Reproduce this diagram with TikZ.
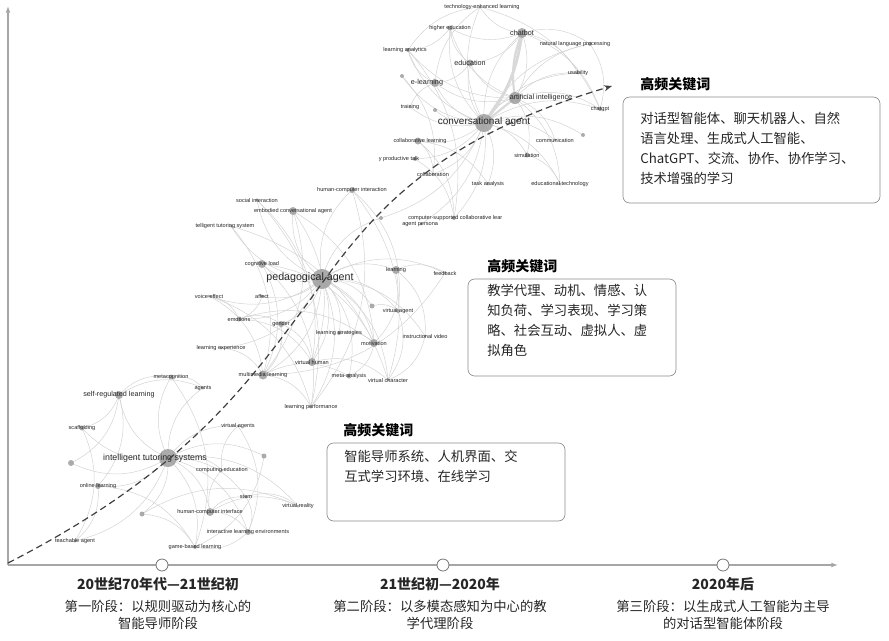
\documentclass[tikz,border=0pt]{standalone}
\usepackage{fontspec}
\setmainfont{Liberation Sans}
\newfontfamily\cjk{Noto Sans CJK SC}
\usetikzlibrary{arrows.meta}
\begin{document}
\begin{tikzpicture}[x=0.75pt,y=-0.75pt,
  kw/.style={inner sep=0pt,font=\fontsize{4.2}{5}\selectfont,text=black!85},
  kwm/.style={inner sep=0pt,font=\fontsize{5.4}{6}\selectfont,text=black!85},
  hub/.style={inner sep=0pt,font=\fontsize{7.5}{8}\selectfont,text=black!85},
  ed/.style={draw=black!18,line width=0.35pt},
  box/.style={draw=black!45,rounded corners=5pt,line width=0.5pt},
  ttl/.style={font=\cjk\fontsize{10.5}{12}\selectfont\bfseries,inner sep=0pt},
  btxt/.style={font=\cjk\fontsize{10}{15}\selectfont,anchor=north west,inner sep=0pt,align=left,text=black!85},
  axl/.style={font=\cjk\fontsize{10}{13}\selectfont,align=center,inner sep=0pt,text=black!85}]
\useasboundingbox (0,0) rectangle (889,640);
% ---------- coordinates of dots
\foreach \n/\x/\y in {ca/484/123,cb/522/33,ai/515/98,ed/470/63,el/435/83,he/450/28,tel/480/7,nlp/590/44,la/408/50,us/578/73,cg/600/109,tr/410/107,d1/402/76,d2/435/110,cl/418/141,pt/415/159,co/433/174,ta/488/184,si/527/155,cm/555/140,et/560/184,d3/583/135,cs/454/218,ap/421/224,d4/381/218}
  {\coordinate (\n) at (\x,\y);}
\foreach \n/\x/\y in {pa/322/279,hci/352/190,si2/257/200,eca/293/211,its2/231/226,clo/262/264,lr/396/270,fb/445/273,ve/209/296,af/262/296,d5/372/306,va/398/311,em/239/319,ge/281/324,ls/339/333,mo/374/343,iv/425/336,lx/221/348,vh/312/362,ml/263/375,ma/349/376,vc/388/380,lp/311/407}
  {\coordinate (\n) at (\x,\y);}
\foreach \n/\x/\y in {its/168/458,mc/171/377,ag/203/388,srl/119/395,sc/82/428,d6/71/463,ol/98/486,vas/238/426,d7/264/456,ce/222/470,st/246/497,vr/298/506,hcif/210/512,d8/142/514,ile/248/532,tea/75/541,gbl/195/547}
  {\coordinate (\n) at (\x,\y);}
% ---------- edges
\foreach \a/\b in {ca/cb,ca/ai,ca/ed,ca/el,ca/he,ca/tel,ca/nlp,ca/la,ca/us,ca/cg,ca/tr,ca/d1,ca/d2,ca/cl,ca/pt,ca/co,ca/ta,ca/si,ca/cm,ca/et,ca/d3,ca/cs,ca/ap,ca/d4,
  cb/ai,cb/nlp,cb/us,cb/ed,cb/he,cb/tel,cb/cg,ai/nlp,ai/cg,ai/us,ai/he,ai/ed,ai/el,ai/la,ai/si,ai/et,ai/cm,ed/he,ed/el,el/la,el/tel,la/tel,cl/co,cl/cs,pt/cs,tr/el,he/la,nlp/cg,la/cs,tel/cg,cl/ta,d1/co,si/et}
  {\draw[ed] (\a) to[bend left=25] (\b);}
\draw[ed,line width=2.2pt,draw=black!15] (ca) to[bend right=15] (cb);
\draw[ed,line width=1.6pt,draw=black!15] (cb) to[bend right=15] (ai);
\draw[ed,line width=1.6pt,draw=black!15] (ca) -- (ai);
\foreach \a/\b in {pa/hci,pa/si2,pa/eca,pa/its2,pa/clo,pa/lr,pa/fb,pa/ve,pa/af,pa/d5,pa/va,pa/em,pa/ge,pa/ls,pa/mo,pa/iv,pa/lx,pa/vh,pa/ml,pa/ma,pa/vc,pa/lp,pa/d4,
  eca/vh,eca/ml,eca/mo,hci/va,hci/vc,clo/ml,clo/mo,clo/lp,lr/mo,lr/fb,lr/iv,ve/ml,ve/em,af/em,em/ge,em/mo,em/vh,ge/vh,ge/ml,ls/mo,ml/lp,ml/ma,vh/vc,mo/ma,va/vc,si2/vh,its2/ml,lx/ml,iv/vc,d5/va,si2/lp,hci/lp,ve/lp,fb/ml,its2/vc}
  {\draw[ed] (\a) to[bend left=28] (\b);}
\foreach \a/\b in {its/mc,its/ag,its/srl,its/sc,its/d6,its/ol,its/vas,its/d7,its/ce,its/st,its/vr,its/hcif,its/d8,its/ile,its/tea,its/gbl,
  srl/mc,srl/sc,srl/ol,srl/d6,srl/ag,ol/tea,ol/gbl,hcif/st,hcif/vr,hcif/ile,hcif/ce,st/vr,st/ile,ce/vas,vas/ile,d7/gbl,d8/gbl,ile/gbl,mc/ag,d8/vr,mc/gbl,sc/tea}
  {\draw[ed] (\a) to[bend left=28] (\b);}
% ---------- dots
\tikzset{dt/.style={fill=black!38}}
\foreach \n/\r in {ca/9,cb/5,ai/6,ed/3.5,el/4,he/2.5,tel/1.5,nlp/2,la/2,us/1.5,cg/2,tr/1.5,d1/2,d2/2,cl/3.5,pt/2,co/1.5,ta/1.5,si/2.5,cm/1.5,et/1.5,d3/2,cs/2,ap/1.5,d4/2,
  pa/10,hci/3,si2/1.5,eca/4,its2/1.5,clo/4,lr/4,fb/1.5,ve/1.5,af/1.5,d5/2.5,va/2,em/2.5,ge/3,ls/2,mo/4,iv/1.5,lx/1.5,vh/4,ml/4.5,ma/2.5,vc/1.5,lp/1.5,
  its/9,mc/2.5,ag/1.5,srl/4,sc/2.5,d6/3,ol/3,vas/1.5,d7/2.5,ce/1.5,st/1.5,vr/1.5,hcif/4,d8/2.5,ile/3,tea/1.5,gbl/2}
  {\fill[dt,opacity=0.85] (\n) circle[radius=\r];}
% ---------- labels
\node[hub] (lca) at (484,122) {conversational agent};
\node[kwm] (lcb) at (522,33) {chatbot};
\node[kwm] (lai) at (541,98) {artificial intelligence};
\node[kwm] (led) at (470,63) {education};
\node[kwm] (lel) at (427,83) {e-learning};
\node[kw] (lhe) at (450,28) {higher education};
\node[kw] (ltel) at (482,7) {technology-enhanced learning};
\node[kw] (lnlp) at (575,44) {natural language processing};
\node[kw] (lla) at (405,50) {learning analytics};
\node[kw] (lus) at (578,73) {usability};
\node[kw] (lcg) at (600,109) {chatgpt};
\node[kw] (ltr) at (410,107) {training};
\node[kw] (lcl) at (420,141) {collaborative learning};
\node[kw] (lpt) at (399,159) {y productive talk};
\node[kw] (lco) at (433,174) {collaboration};
\node[kw] (lta) at (488,184) {task analysis};
\node[kw] (lsi) at (527,155) {simulation};
\node[kw] (lcm) at (555,140) {communication};
\node[kw] (let) at (560,184) {educational technology};
\node[kw,anchor=west] (lcs) at (408,218) {computer-supported collaborative lear};
\node[kw,anchor=west] (lap) at (402,224) {agent persona};
\node[hub,font=\fontsize{8}{9}\selectfont] (lpa) at (310,278) {pedagogical agent};
\node[kw] (lhci) at (352,190) {human-computer interaction};
\node[kw] (lsi2) at (257,200) {social interaction};
\node[kw] (leca) at (293,211) {embodied conversational agent};
\node[kw] (lits2) at (225,226) {telligent tutoring system};
\node[kw] (lclo) at (262,264) {cognitive load};
\node[kw] (llr) at (396,270) {learning};
\node[kw] (lfb) at (445,273) {feedback};
\node[kw] (lve) at (209,296) {voice effect};
\node[kw] (laf) at (262,296) {affect};
\node[kw] (lva) at (398,311) {virtual agent};
\node[kw] (lem) at (239,319) {emotions};
\node[kw] (lge) at (281,324) {gender};
\node[kw] (lls) at (339,333) {learning strategies};
\node[kw] (lmo) at (374,343) {motivation};
\node[kw] (liv) at (425,336) {instructional video};
\node[kw] (llx) at (221,348) {learning experience};
\node[kw] (lvh) at (312,362) {virtual human};
\node[kw] (lml) at (263,375) {multimedia learning};
\node[kw] (lma) at (349,376) {meta-analysis};
\node[kw] (lvc) at (388,380) {virtual character};
\node[kw] (llp) at (311,407) {learning performance};
\node[hub,font=\fontsize{6.6}{7}\selectfont] (lits) at (155,458) {intelligent tutoring systems};
\node[kw] (lmc) at (171,377) {metacognition};
\node[kw] (lag) at (203,388) {agents};
\node[kwm] (lsrl) at (119,395) {self-regulated learning};
\node[kw] (lsc) at (82,428) {scaffolding};
\node[kw] (lol) at (98,486) {online learning};
\node[kw] (lvas) at (238,426) {virtual agents};
\node[kw] (lce) at (222,470) {computing education};
\node[kw] (lst) at (246,497) {stem};
\node[kw] (lvr) at (298,506) {virtual reality};
\node[kw] (lhcif) at (210,512) {human-computer interface};
\node[kw] (lile) at (248,532) {interactive learning environments};
\node[kw] (ltea) at (75,541) {teachable agent};
\node[kw] (lgbl) at (195,547) {game-based learning};
% ---------- axes
\draw[black!35,line width=1.2pt,-{Latex[length=5pt]}] (8,565) -- (8,6);
\draw[black!35,line width=1.2pt,-{Latex[length=5pt]}] (8,565) -- (838,565);
\foreach \n/\x in {t1/162,t2/443,t3/723}
  \node[circle,draw=black!55,fill=white,minimum size=9pt,inner sep=0pt,line width=0.6pt] (\n) at (\x,565) {};
% ---------- trend curve
\coordinate (s0) at (8,563);
\coordinate (s1) at (612,86);
\draw[black!75,line width=0.9pt,dash pattern=on 5pt off 3pt,-{Stealth[length=6pt]}]
  (s0) .. controls (190,470) and (250,380) .. (310,300)
  .. controls (370,215) and (430,140) .. (s1);
% ---------- boxes
\draw[box] (623,97) rectangle (880,203);
\node[ttl,anchor=west] (h3) at (640,84) {高频关键词};
\node[btxt] (b3) at (640,112) {对话型智能体、聊天机器人、自然\\语言处理、生成式人工智能、\\ChatGPT、交流、协作、协作学习、\\技术增强的学习};
\draw[box] (468,279) rectangle (676,376);
\node[ttl,anchor=west] (h2) at (487,266) {高频关键词};
\node[btxt] (b2) at (487,284) {教学代理、动机、情感、认\\知负荷、学习表现、学习策\\略、社会互动、虚拟人、虚\\拟角色};
\draw[box] (327,443) rectangle (565,521);
\node[ttl,anchor=west] (h1) at (343,430) {高频关键词};
\node[btxt] (b1) at (344,450) {智能导师系统、人机界面、交\\互式学习环境、在线学习};
% ---------- axis labels
\node[axl,font=\cjk\fontsize{10.5}{13}\selectfont\bfseries] (y1) at (158,584) {20世纪70年代—21世纪初};
\node[axl] (p1) at (158,615) {第一阶段：以规则驱动为核心的\\智能导师阶段};
\node[axl,font=\cjk\fontsize{10.5}{13}\selectfont\bfseries] (y2) at (440,584) {21世纪初—2020年};
\node[axl] (p2) at (440,615) {第二阶段：以多模态感知为中心的教\\学代理阶段};
\node[axl,font=\cjk\fontsize{10.5}{13}\selectfont\bfseries] (y3) at (723,584) {2020年后};
\node[axl] (p3) at (723,615) {第三阶段：以生成式人工智能为主导\\的对话型智能体阶段};
\end{tikzpicture}
\end{document}
